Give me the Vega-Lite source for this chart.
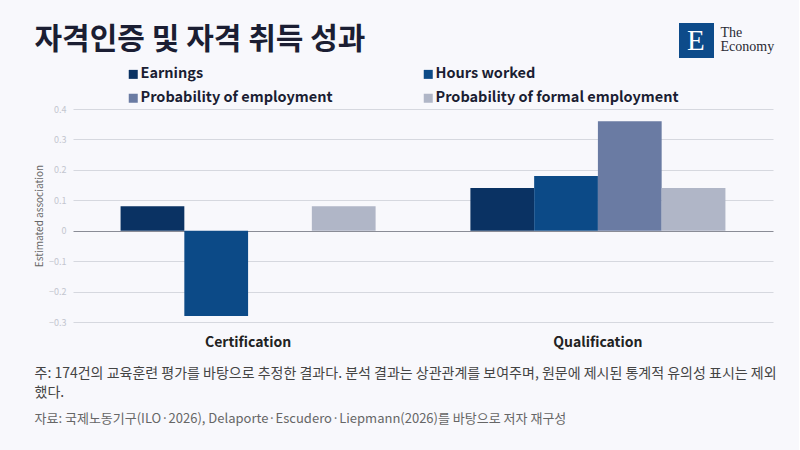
{
  "$schema": "https://vega.github.io/schema/vega-lite/v6.json",
  "background": "#f8f8fc",
  "padding": {"left": 34, "top": 23, "right": 22, "bottom": 28},
  "title": {
    "text": ["The", "Economy"],
    "anchor": "end",
    "align": "left",
    "frame": "bounds",
    "dx": -56,
    "dy": 31,
    "font": "Liberation Serif",
    "fontSize": 14,
    "lineHeight": 14,
    "fontWeight": "normal",
    "color": "#2a2a33",
    "offset": 0
  },
  "config": {
    "font": "Noto Sans CJK KR",
    "view": {"stroke": null},
    "axis": {"labelFont": "Noto Sans CJK KR", "titleFont": "Noto Sans CJK KR"},
    "legend": {"labelFont": "Noto Sans CJK KR"}
  },
  "vconcat": [
    {
      "title": {
        "text": "자격인증 및 자격 취득 성과",
        "anchor": "start",
        "frame": "bounds",
        "font": "Noto Sans CJK KR",
        "fontSize": 30,
        "fontWeight": "bold",
        "color": "#1b1e33",
        "offset": 50
      },
      "vconcat": [
        {
          "width": 700,
          "height": 213,
          "title": {
            "text": [
              "주: 174건의 교육훈련 평가를 바탕으로 추정한 결과다. 분석 결과는 상관관계를 보여주며, 원문에 제시된 통계적 유의성 표시는 제외",
              "했다."
            ],
            "subtitle": "자료: 국제노동기구(ILO·2026), Delaporte·Escudero·Liepmann(2026)를 바탕으로 저자 재구성",
            "orient": "bottom",
            "anchor": "start",
            "frame": "bounds",
            "font": "Noto Sans CJK KR",
            "fontSize": 14,
            "fontWeight": "normal",
            "color": "#444444",
            "lineHeight": 19,
            "subtitleFont": "Noto Sans CJK KR",
            "subtitleFontSize": 13,
            "subtitleColor": "#666666",
            "subtitlePadding": 13,
            "offset": 18
          },
          "data": {
            "values": [
              {"type": "Certification", "outcome": "Earnings", "value": 0.08},
              {"type": "Certification", "outcome": "Hours worked", "value": -0.28},
              {"type": "Certification", "outcome": "Probability of formal employment", "value": 0.08},
              {"type": "Qualification", "outcome": "Earnings", "value": 0.14},
              {"type": "Qualification", "outcome": "Hours worked", "value": 0.18},
              {"type": "Qualification", "outcome": "Probability of employment", "value": 0.36},
              {"type": "Qualification", "outcome": "Probability of formal employment", "value": 0.14}
            ]
          },
          "mark": {"type": "bar"},
          "encoding": {
            "x": {
              "field": "type",
              "type": "nominal",
              "sort": ["Certification", "Qualification"],
              "scale": {"paddingInner": 0.271, "paddingOuter": 0.136},
              "axis": {
                "title": null,
                "labelAngle": 0,
                "domain": false,
                "ticks": false,
                "labelFontSize": 14,
                "labelFontWeight": "bold",
                "labelColor": "#222222",
                "labelPadding": 13
              }
            },
            "xOffset": {
              "field": "outcome",
              "type": "nominal",
              "sort": ["Earnings", "Hours worked", "Probability of employment", "Probability of formal employment"]
            },
            "y": {
              "field": "value",
              "type": "quantitative",
              "scale": {"domain": [-0.3, 0.4], "nice": false},
              "axis": {
                "title": "Estimated association",
                "titleFontSize": 10,
                "titleFontWeight": "normal",
                "titleColor": "#666666",
                "titlePadding": 4,
                "values": [-0.3, -0.2, -0.1, 0, 0.1, 0.2, 0.3, 0.4],
                "labelExpr": "datum.value === 0 ? '0' : format(datum.value, '.1f')",
                "labelFontSize": 9,
                "labelColor": "#c3c6cf",
                "labelPadding": 7,
                "domain": false,
                "ticks": false,
                "gridColor": {"condition": {"test": "datum.value === 0", "value": "#8a8c96"}, "value": "#d6d8df"},
                "gridWidth": 1
              }
            },
            "opacity": {
              "datum": "E",
              "type": "nominal",
              "scale": {"domain": ["E"], "range": [1]},
              "legend": {
                "title": null,
                "orient": "none",
                "legendX": 606,
                "legendY": -86,
                "symbolType": "square",
                "symbolSize": 1225,
                "symbolFillColor": "#0d4b8a",
                "symbolStrokeWidth": 0,
                "labelFont": "Liberation Serif",
                "labelFontSize": 29,
                "labelColor": "#ffffff",
                "labelOffset": -27,
                "encode": {"symbols": {"update": {"fill": {"value": "#0d4b8a"}, "opacity": {"value": 1}}}}
              }
            },
            "color": {
              "field": "outcome",
              "type": "nominal",
              "sort": ["Earnings", "Hours worked", "Probability of employment", "Probability of formal employment"],
              "scale": {
                "domain": ["Earnings", "Hours worked", "Probability of employment", "Probability of formal employment"],
                "range": ["#0a3263", "#0c4a87", "#6a7ba3", "#b0b6c7"]
              },
              "legend": {
                "title": null,
                "orient": "none",
                "direction": "horizontal",
                "legendX": 53,
                "legendY": -42,
                "columns": 2,
                "symbolType": "square",
                "symbolSize": 81,
                "symbolStrokeWidth": 0,
                "labelOffset": 0,
                "labelFontSize": 14.5,
                "labelFontWeight": "bold",
                "labelColor": "#1b1e33",
                "labelLimit": 300,
                "columnPadding": 88,
                "rowPadding": 9
              }
            }
          }
        }
      ]
    }
  ]
}
